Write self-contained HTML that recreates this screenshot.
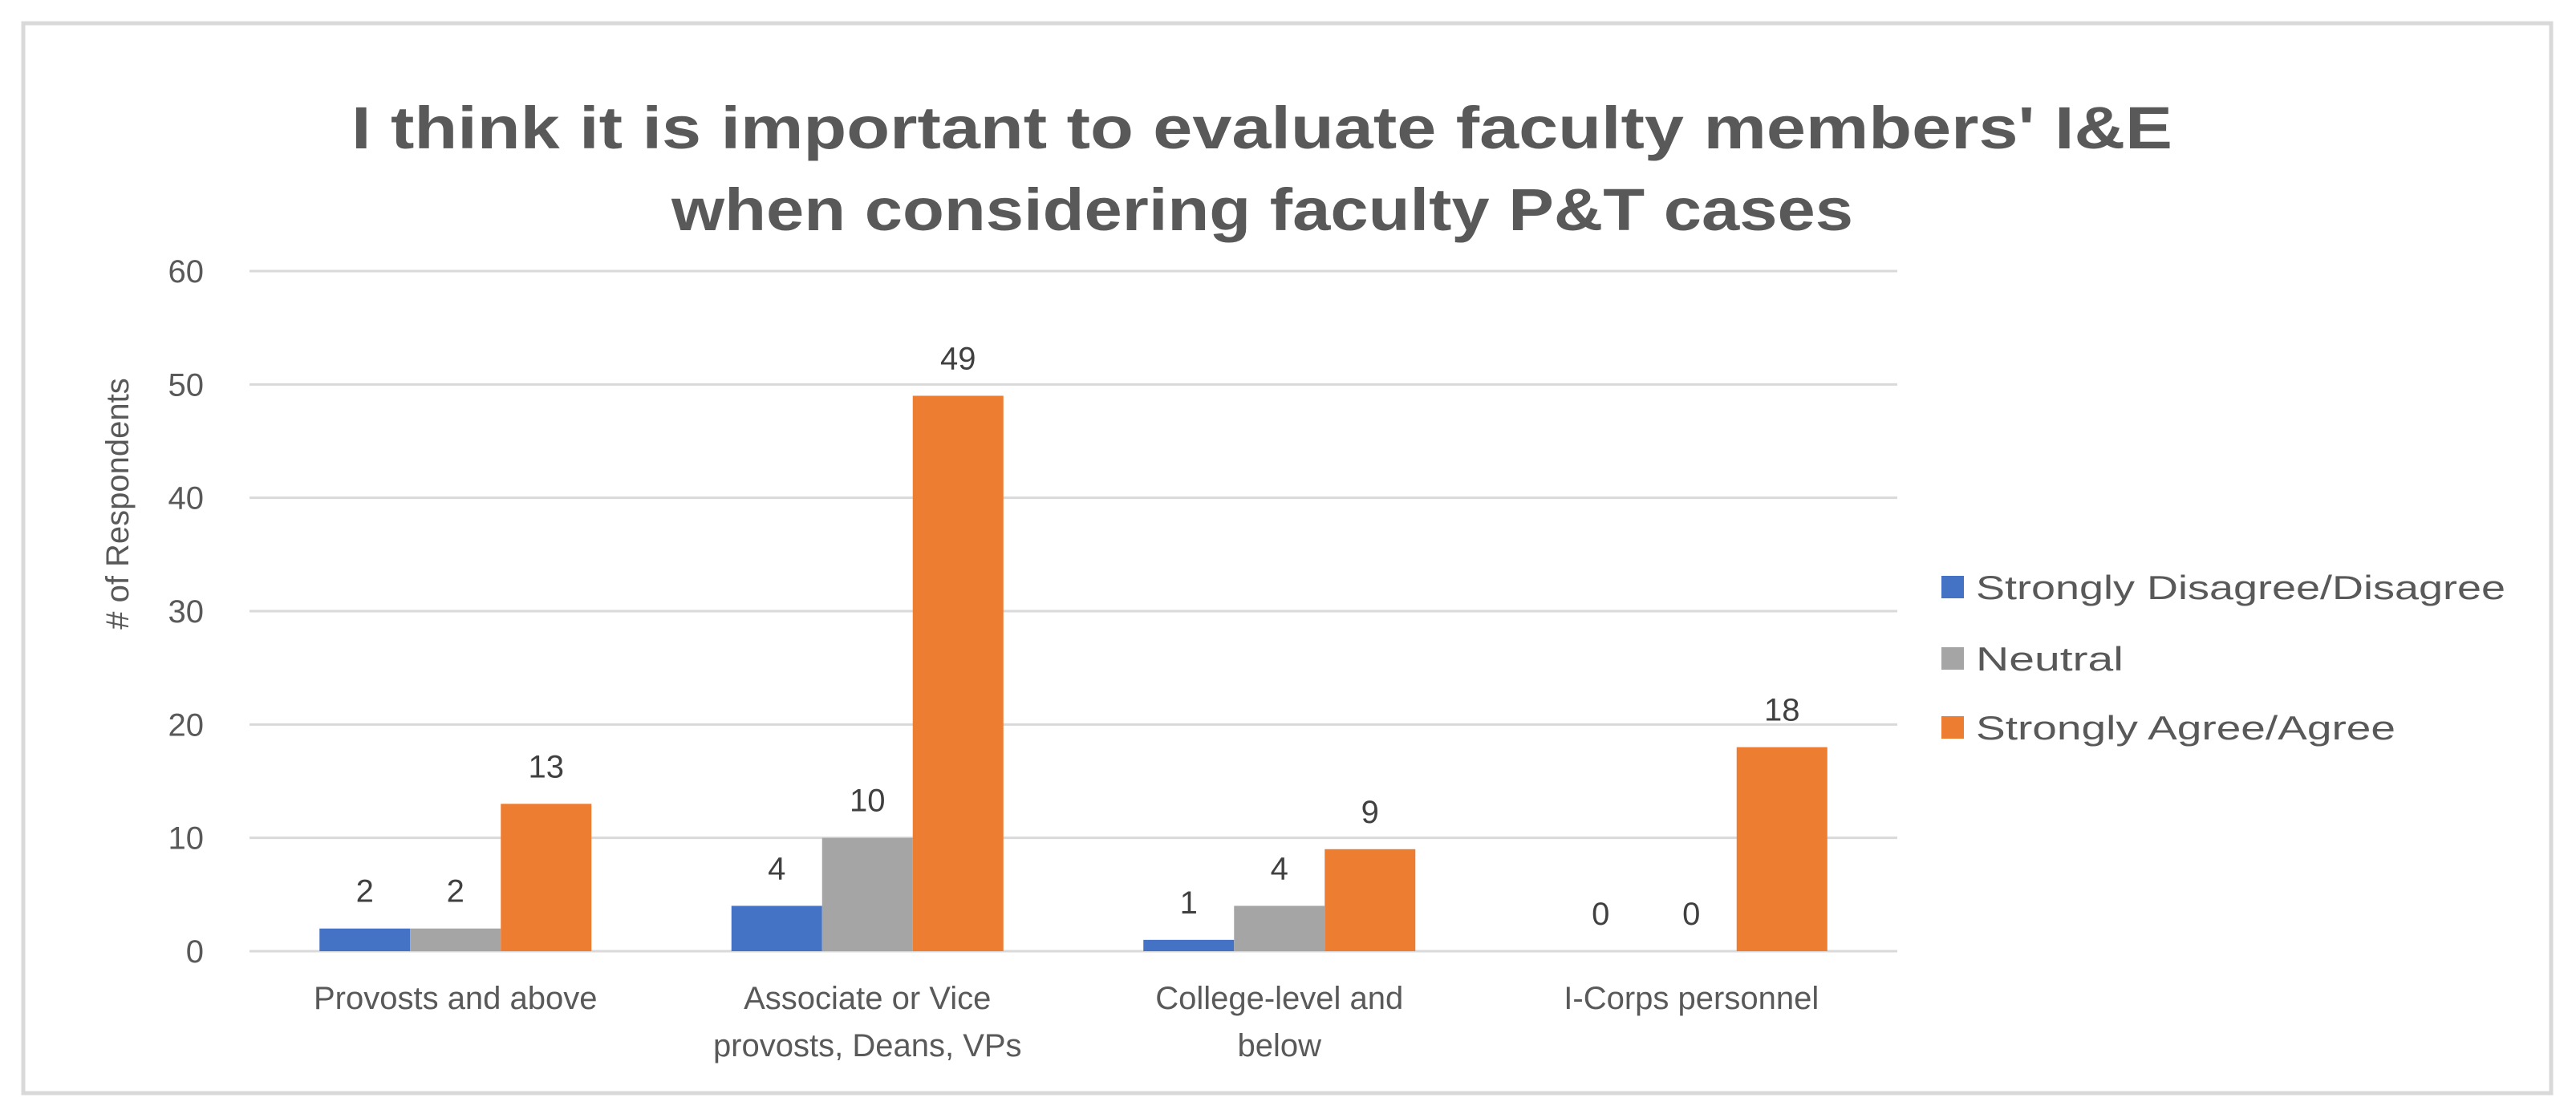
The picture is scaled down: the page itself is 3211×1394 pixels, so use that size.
<!DOCTYPE html>
<html><head><meta charset="utf-8"><style>
html,body{margin:0;padding:0;background:#fff;}
svg{display:block;font-family:"Liberation Sans",sans-serif;}
</style></head><body>
<svg id="chart" width="3211" height="1394" viewBox="0 0 3211 1394" xmlns="http://www.w3.org/2000/svg">
<rect x="29" y="29" width="3151" height="1334" fill="#fff" stroke="#d9d9d9" stroke-width="5"/>
<text x="438" y="185" font-size="74" font-weight="bold" fill="#595959" textLength="2270" lengthAdjust="spacingAndGlyphs">I think it is important to evaluate faculty members' I&amp;E</text>
<text x="837" y="287" font-size="74" font-weight="bold" fill="#595959" textLength="1473" lengthAdjust="spacingAndGlyphs">when considering faculty P&amp;T cases</text>
<text transform="translate(160,628) rotate(-90)" text-anchor="middle" font-size="40" fill="#595959"># of Respondents</text>
<g id="grid"></g>
<g id="yticks"></g>
<g id="bars"></g>
<g id="xlabels"></g>
<g id="legend"></g>
</svg>
<script>
const categories = [["Provosts and above"],["Associate or Vice","provosts, Deans, VPs"],["College-level and","below"],["I-Corps personnel"]];
const seriesNames = ["Strongly Disagree/Disagree","Neutral","Strongly Agree/Agree"];
const disagreeValues = [2,4,1,0];
const neutralValues = [2,10,4,0];
const agreeValues = [13,49,9,18];
const yTicks = [0,10,20,30,40,50,60];

const NS="http://www.w3.org/2000/svg";
const colors=["#4472C4","#A5A5A5","#ED7D31"];
const series=[disagreeValues,neutralValues,agreeValues];
const plotL=311, plotR=2365, y0=1186, y60=338, yMax=60;
function yS(v){return y0-(v/yMax)*(y0-y60);}
const groupW=(plotR-plotL)/categories.length;
function xC(i){return plotL+groupW*(i+0.5);}
const barW=113;
function mk(tag,attrs,parent,txt){const e=document.createElementNS(NS,tag);for(const k in attrs)e.setAttribute(k,attrs[k]);if(txt!==undefined)e.textContent=txt;parent.appendChild(e);return e;}
const grid=document.getElementById('grid'),yt=document.getElementById('yticks'),bars=document.getElementById('bars'),xl=document.getElementById('xlabels'),lg=document.getElementById('legend');
yTicks.forEach(t=>{
  const l=mk('line',{x1:plotL,x2:plotR,y1:yS(t),y2:yS(t),stroke:'#d9d9d9','stroke-width':3},grid);
  
  
  const tx=mk('text',{x:254,y:yS(t)+14,'text-anchor':'end','font-size':40,fill:'#595959'},yt,String(t));
  
  
});
series.forEach((vals,s)=>{
  vals.forEach((v,i)=>{
    const x=xC(i)-1.5*barW+s*barW;
    const r=mk('rect',{x:x,y:yS(v),width:barW,height:y0-yS(v),fill:colors[s]},bars);
    
    
    const t=mk('text',{x:x+barW/2,y:yS(v)-33,'text-anchor':'middle','font-size':40,fill:'#404040'},bars,String(v));
    
    
  });
});
categories.forEach((lines,i)=>{
  lines.forEach((ln,j)=>{
    const t=mk('text',{x:xC(i),y:1258+j*59,'text-anchor':'middle','font-size':40,fill:'#595959'},xl,ln);
    
    
  });
});
const legY=[732,821,907], legW=[660,184,523];
seriesNames.forEach((n,s)=>{
  const r=mk('rect',{x:2420,y:legY[s]-14,width:28,height:28,fill:colors[s]},lg);
  
  
  const t=mk('text',{x:2463,y:legY[s]+15,'font-size':42,fill:'#595959',textLength:legW[s],lengthAdjust:'spacingAndGlyphs'},lg,n);
  
  
});
</script>
</body></html>
